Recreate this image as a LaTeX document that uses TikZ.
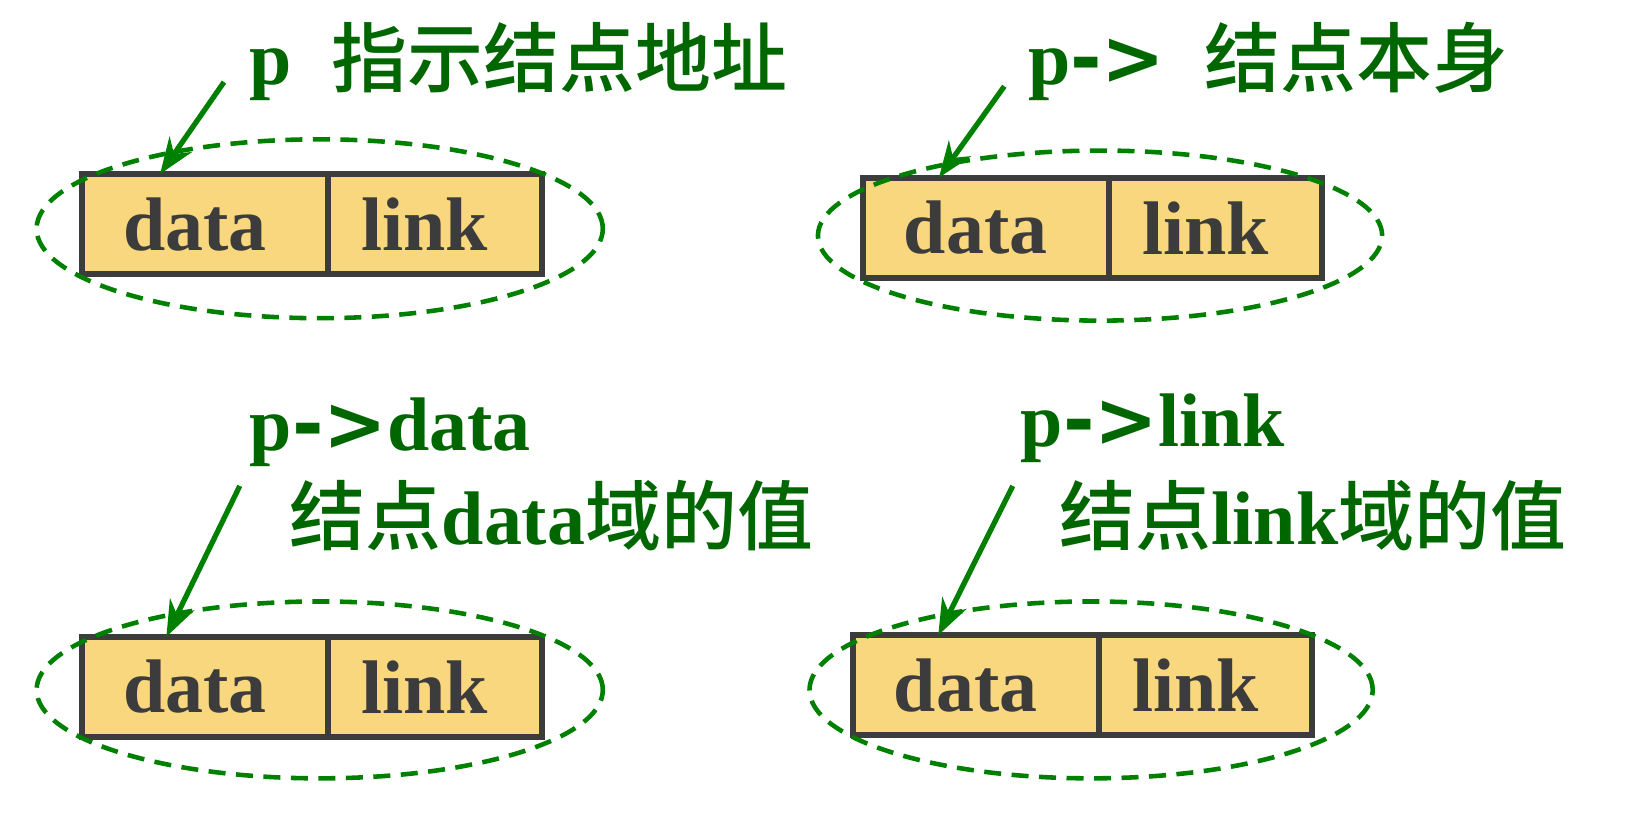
\documentclass[tikz,border=0pt]{standalone}
\usepackage{fontspec}
\setmainfont{Liberation Serif}
\newfontfamily\cjk{Noto Sans CJK SC}[BoldFont={Noto Sans CJK SC Medium}]
\newfontfamily\sym{DejaVu Sans}
\usetikzlibrary{arrows.meta,positioning}

\definecolor{cellfill}{HTML}{F9D77E}
\definecolor{cellline}{HTML}{3C3C3C}
\definecolor{txtgreen}{HTML}{006600}
\definecolor{ringgreen}{HTML}{008000}

\tikzset{
  cell/.style={draw=cellline, fill=cellfill, line width=1.7pt, outer sep=0pt,
    inner sep=0pt, minimum height=1.0cm, text=cellline,
    font=\fontsize{21.6}{25}\selectfont\bfseries,
    execute at end node=\hspace{0.2cm}},
  ring/.style={draw=ringgreen, line width=1.3pt, dash pattern=on 0.17cm off 0.105cm},
  ptr/.style={draw=ringgreen, line width=1.5pt, -{Stealth[length=0.36cm,width=0.27cm]}},
  lbl/.style={anchor=base west, inner sep=0pt, text=txtgreen,
    font=\fontsize{21.6}{25}\selectfont\bfseries},
}

\begin{document}
\begin{tikzpicture}[x=0.010517cm, y=-0.010517cm]
\useasboundingbox (0,0) rectangle (1568,777);

% Four nodes: data cell and link cell
\foreach \n/\x/\y in {1/194.75/213, 2/937.25/216.5, 3/194.75/653, 4/927.75/651.5} {
  \node[cell, minimum width=2.462cm] (d\n) at (\x, \y) {data};
  \node[cell, minimum width=2.135cm, right=0pt of d\n] (k\n) {link};
}

% Dashed rings round the nodes
\draw[ring] (304, 217.5) ellipse [x radius=2.83cm, y radius=0.894cm];
\draw[ring] (1046, 224) ellipse [x radius=2.82cm, y radius=0.85cm];
\draw[ring] (304, 656) ellipse [x radius=2.83cm, y radius=0.884cm];
\draw[ring] (1037.5, 656) ellipse [x radius=2.815cm, y radius=0.884cm];

% Labels
\node[lbl] (p1) at (237, 80) {p};
\node[lbl] (c1) at (315, 82) {\cjk 指示结点地址};
\node[lbl] (p2) at (977, 80) {p{\sym ->}};
\node[lbl] (c2) at (1145, 82) {\cjk 结点本身};
\node[lbl] (p3) at (237, 428) {p{\sym ->}data};
\node[lbl] (c3) at (275, 518) {{\cjk 结点}data{\cjk 域的值}};
\node[lbl] (p4) at (970, 425) {p{\sym ->}link};
\node[lbl] (c4) at (1007, 518) {{\cjk 结点}link{\cjk 域的值}};

% Pointers
\foreach \n/\x/\y/\dx in {1/213/78/0.784, 2/955/82/0.763, 3/228/462/0.847, 4/963/462/0.857} {
  \coordinate (a\n) at (\x, \y);
  \draw[ptr] (a\n) -- ([xshift=\dx cm]d\n.north west);
}

\end{tikzpicture}
\end{document}
